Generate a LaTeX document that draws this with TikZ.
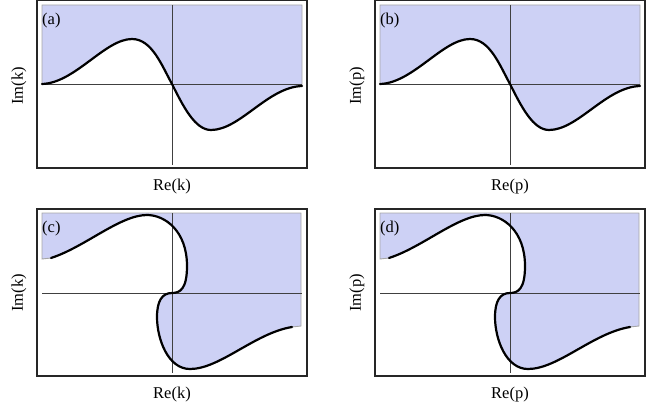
\documentclass[tikz,border=0pt]{standalone}
\usepackage{fontspec}
\setmainfont{Liberation Serif}
\definecolor{regfill}{RGB}{205,209,245}
\begin{document}
\begin{tikzpicture}[x=1pt,y=-1pt,
  frame/.style={draw=black!85,line width=1.1pt},
  region/.style={fill=regfill,draw=black!35,line width=0.9pt},
  axis/.style={draw=black!75,line width=0.9pt},
  contour/.style={draw=black,line width=2.2pt,line cap=round},
  lbl/.style={font=\fontsize{16.5}{18}\selectfont,inner sep=0pt}]
\useasboundingbox (0,0) rectangle (668,412);
% top row: panels (a) and (b)
\foreach \dx/\pp/\vv in {0/a/k,338/b/p}{
 \begin{scope}[shift={(\dx,0)}]
  \path[region] (42,5) -- (42,84)
    .. controls (75,83) and (105,39) .. (132,39)
    .. controls (152,39) and (162,66) .. (172,84)
    .. controls (183,106) and (195,130) .. (211,130)
    .. controls (240,130) and (268,87) .. (302,86)
    -- (302,5) -- cycle;
  \draw[axis] (42,84) -- (302,84);
  \draw[axis] (172,5) -- (172,165);
  \draw[contour] (42,84)
    .. controls (75,83) and (105,39) .. (132,39)
    .. controls (152,39) and (162,66) .. (172,84)
    .. controls (183,106) and (195,130) .. (211,130)
    .. controls (240,130) and (268,87) .. (302,86);
  \draw[frame] (37,0.6) rectangle (307,168);
  \node[lbl,anchor=west] (tag\pp) at (42,21) {(\pp)};
  \node[lbl,rotate=90] (im\pp) at (19,86) {Im(\vv)};
  \node[lbl] (re\pp) at (172,187) {Re(\vv)};
 \end{scope}}
% bottom row: panels (c) and (d)
\foreach \dx/\pp/\vv in {0/c/k,338/d/p}{
 \begin{scope}[shift={(\dx,209)}]
  \path[region] (42,4) -- (42,50) -- (51,49)
    .. controls (85,38) and (120,6) .. (147,6)
    .. controls (165,6) and (187,22) .. (187,57)
    .. controls (187,80) and (180,84) .. (172,84)
    .. controls (162,84) and (157,92) .. (157,108)
    .. controls (157,130) and (168,160) .. (190,160)
    .. controls (220,160) and (255,124) .. (292,118)
    -- (301,117) -- (301,4) -- cycle;
  \draw[axis] (42,84) -- (302,84);
  \draw[axis] (172,4) -- (172,164);
  \draw[contour] (51,49)
    .. controls (85,38) and (120,6) .. (147,6)
    .. controls (165,6) and (187,22) .. (187,57)
    .. controls (187,80) and (180,84) .. (172,84)
    .. controls (162,84) and (157,92) .. (157,108)
    .. controls (157,130) and (168,160) .. (190,160)
    .. controls (220,160) and (255,124) .. (292,118);
  \draw[frame] (37,0) rectangle (307,167);
  \node[lbl,anchor=west] (tag\pp) at (42,20) {(\pp)};
  \node[lbl,rotate=90] (im\pp) at (19,84) {Im(\vv)};
  \node[lbl] (re\pp) at (172,186) {Re(\vv)};
 \end{scope}}
\end{tikzpicture}
\end{document}
